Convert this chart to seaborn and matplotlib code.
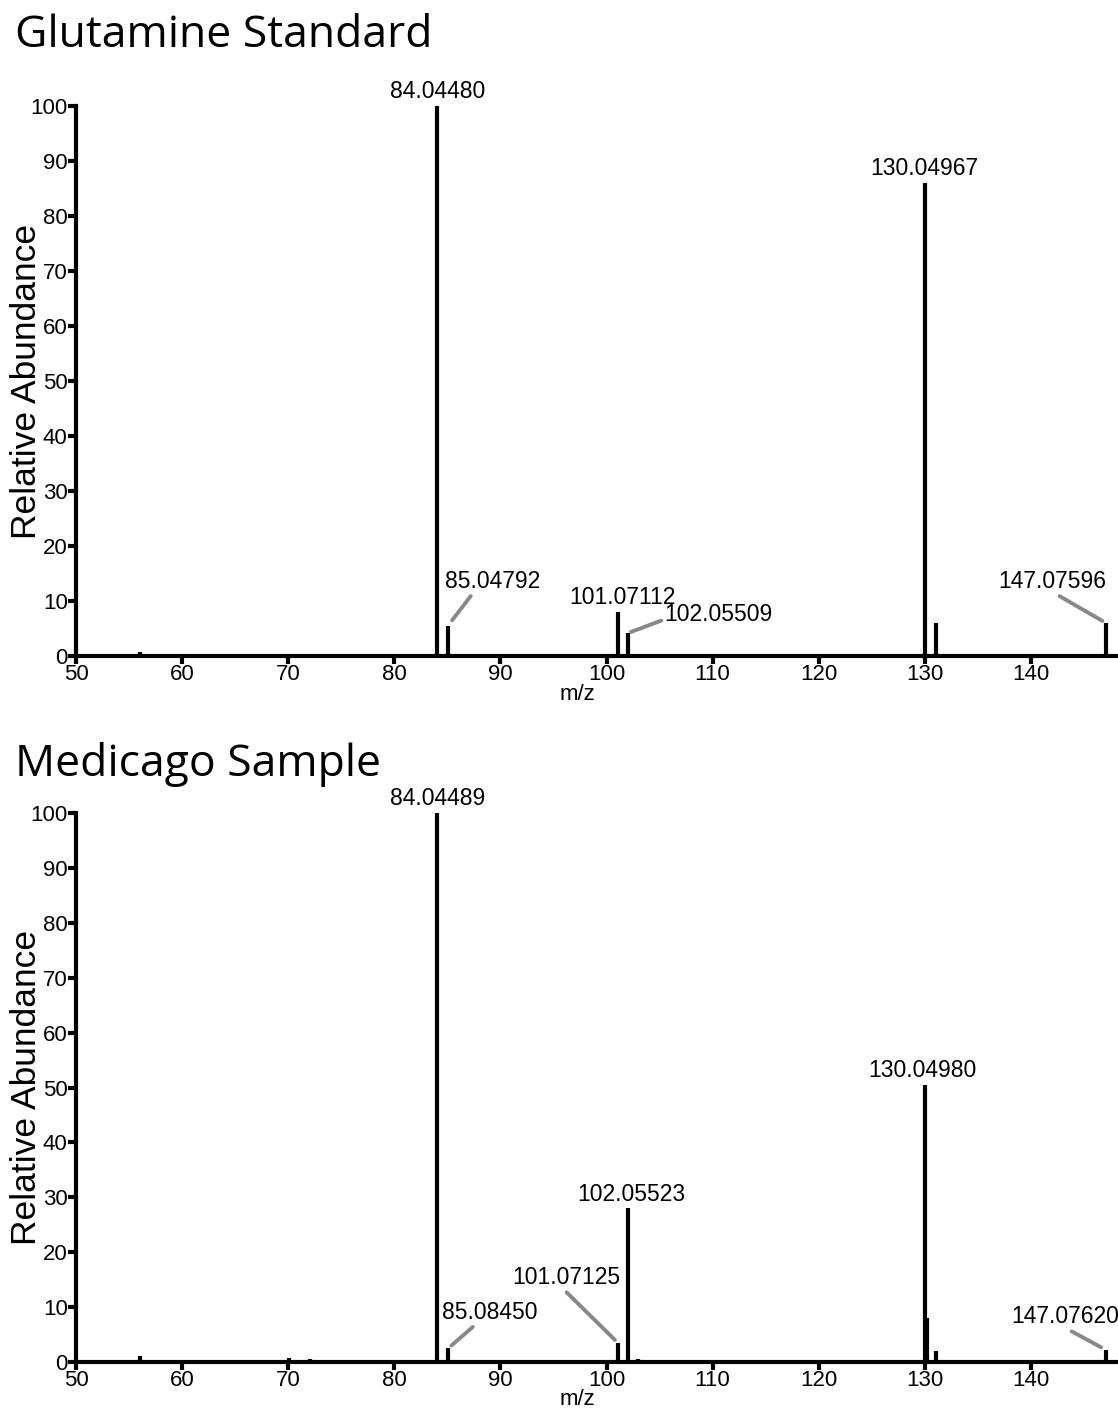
import matplotlib
matplotlib.use("Agg")
import matplotlib.pyplot as plt
import seaborn as sns
import pandas as pd

# ---- data ----
std_mz = [56.05, 84.0448, 85.04792, 101.07112, 102.05509, 103.0, 130.04967, 131.05, 132.05, 147.07596]
std_int = [0.7, 100.0, 5.5, 8.0, 4.2, 0.3, 86.0, 6.0, 0.3, 6.0]

med_mz = [56.05, 70.06, 72.05, 74.0, 84.04489, 85.0845, 86.0, 101.07125, 102.05523, 103.0,
          112.0, 128.0, 129.0, 130.0498, 130.2, 131.05, 147.0762, 147.2]
med_int = [1.1, 0.7, 0.5, 0.3, 100.0, 2.5, 0.3, 3.5, 28.0, 0.5,
           0.2, 0.3, 0.4, 50.5, 8.0, 2.0, 2.2, 0.4]

xticks = [50, 60, 70, 80, 90, 100, 110, 120, 130, 140]
yticks = [0, 10, 20, 30, 40, 50, 60, 70, 80, 90, 100]

# labels: (mz, intensity, text, dx_points, dy_points, leader relpos or None, shrinkB)
std_labels = [
    (84.0448, 100.0, "84.04480", 0, 2, None, 0),
    (130.04967, 86.0, "130.04967", -1, 2, None, 0),
    (85.04792, 5.5, "85.04792", 32, 32, (0.3, 0.0), 5),
    (101.07112, 8.0, "101.07112", 3, 2, None, 0),
    (102.05509, 4.2, "102.05509", 65, 13, (0.0, 0.3), 2),
    (147.07596, 6.0, "147.07596", -39, 30, (0.52, 0.0), 3),
]
med_labels = [
    (84.04489, 100.0, "84.04489", 0, 2, None, 0),
    (130.0498, 50.5, "130.04980", -2, 2, None, 0),
    (102.05523, 28.0, "102.05523", 2, 2, None, 0),
    (101.07125, 3.5, "101.07125", -37, 47, (0.47, 0.0), 3),
    (85.0845, 2.5, "85.08450", 30, 26, (0.36, 0.0), 3),
    (147.0762, 2.2, "147.07620", -29, 24, (0.5, 0.0), 4),
]

titles = ["Glutamine Standard", "Medicago Sample"]

sns.set_style("ticks")
plt.rcParams["font.family"] = ["Liberation Sans", "DejaVu Sans"]
for k in ["text.color", "axes.labelcolor", "xtick.color", "ytick.color", "axes.edgecolor"]:
    plt.rcParams[k] = "black"

fig = plt.figure(figsize=(11.18, 14.12), dpi=100)
ax1 = fig.add_axes([0.068, 0.5354, 0.930, 0.3896])
ax2 = fig.add_axes([0.068, 0.0354, 0.930, 0.3888])

for ax, mz, inten, labels, title, ty in [
    (ax1, std_mz, std_int, std_labels, titles[0], 0.9745),
    (ax2, med_mz, med_int, med_labels, titles[1], 0.4585),
]:
    df = pd.DataFrame({"mz": mz, "intensity": inten})
    ax.vlines(df["mz"], 0, df["intensity"], color="black", linewidth=3)
    ax.set_xlim(50, 148)
    ax.set_ylim(0, 100)
    ax.set_xticks(xticks)
    ax.set_yticks(yticks)
    ax.tick_params(axis="both", labelsize=16, width=3, length=6, direction="out", pad=0, color="black")
    for s in ["left", "bottom"]:
        ax.spines[s].set_linewidth(3)
        ax.spines[s].set_color("black")
    sns.despine(ax=ax)
    ax.spines["bottom"].set_zorder(5)
    ax.set_ylabel("Relative Abundance", fontsize=25.5)
    ax.yaxis.label.set_va("center")
    ax.yaxis.set_label_coords(-0.048, 0.5)
    ax.set_xlabel("m/z", fontsize=16)
    ax.xaxis.set_label_coords(0.482, -0.050)
    for (x, y, t, dx, dy, relpos, shrinkB) in labels:
        if relpos is not None:
            ax.annotate(t, xy=(x, y), xytext=(dx, dy), textcoords="offset points",
                        ha="center", va="center", fontsize=16.5,
                        arrowprops=dict(arrowstyle="-", color="#888888", lw=2.8,
                                        relpos=relpos, shrinkA=0, shrinkB=shrinkB))
        else:
            ax.annotate(t, xy=(x, y), xytext=(dx, dy), textcoords="offset points",
                        ha="center", va="bottom", fontsize=16.5)
    fig.text(0.013, ty, title, fontsize=32, family=["Open Sans", "DejaVu Sans"], va="center")

fig.savefig("out.png", dpi=100)
